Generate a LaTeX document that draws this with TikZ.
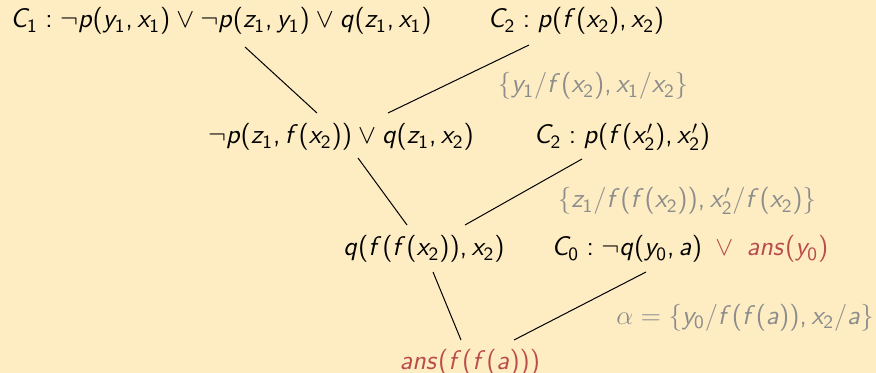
\RequirePackage{fix-cm}
\documentclass[tikz,border=0pt]{standalone}
\usepackage{xcolor}
\DeclareSymbolFont{sfletters}{OT1}{cmss}{m}{sl}
\DeclareSymbolFont{sfops}{OT1}{cmss}{m}{n}
\def\mkletters#1{\ifx#1\relax\else\DeclareMathSymbol{#1}{\mathalpha}{sfletters}{`#1}\expandafter\mkletters\fi}
\mkletters abcdefghijklmnopqrstuvwxyzABCDEFGHIJKLMNOPQRSTUVWXYZ\relax
\def\mkdigits#1{\ifx#1\relax\else\DeclareMathSymbol{#1}{\mathalpha}{sfops}{`#1}\expandafter\mkdigits\fi}
\mkdigits 0123456789\relax
\DeclareMathSymbol{(}{\mathopen}{sfops}{`(}
\DeclareMathSymbol{)}{\mathclose}{sfops}{`)}
\DeclareMathSymbol{,}{\mathpunct}{sfops}{`,}
\DeclareMathSymbol{/}{\mathord}{sfops}{`/}
\DeclareMathSymbol{:}{\mathrel}{sfops}{`:}
\definecolor{bg}{RGB}{254,237,195}
\definecolor{ansred}{RGB}{185,75,75}
\definecolor{subgray}{RGB}{140,140,140}
\tikzset{
  clause/.style={anchor=base,inner sep=0pt,font=\fontsize{13.45}{16}\selectfont},
  subst/.style={clause,text=subgray},
  edge/.style={draw=black,line width=0.5pt}
}
\begin{document}
\begin{tikzpicture}[x=0.5pt,y=-0.5pt]
\fill[bg] (0,0) rectangle (876,373);
\useasboundingbox (0,0) rectangle (876,373);
\node[clause] (c1) at (221,28) {$C_1 : \neg p(y_1,x_1)\vee\neg p(z_1,y_1)\vee q(z_1,x_1)$};
\node[clause] (c2) at (576,28) {$C_2 : p(f(x_2),x_2)$};
\node[subst] (s1) at (593,93) {$\{y_1/f(x_2),x_1/x_2\}$};
\node[clause] (r2) at (341,144) {$\neg p(z_1,f(x_2))\vee q(z_1,x_2)$};
\node[clause] (c2p) at (622,144) {$C_2 : p(f(x_2'),x_2')$};
\node[subst] (s2) at (687,208) {$\{z_1/f(f(x_2)),x_2'/f(x_2)\}$};
\node[clause] (r3) at (424,256) {$q(f(f(x_2)),x_2)$};
\node[clause] (c0) at (690,256) {$C_0 : \neg q(y_0,a)\enspace\textcolor{ansred}{\vee}\enspace\textcolor{ansred}{ans(y_0)}$};
\node[subst] (s3) at (745,324) {$\alpha=\{y_0/f(f(a)),x_2/a\}$};
\node[clause,text=ansred] (r4) at (470,369) {$ans(f(f(a)))$};
\draw[edge] ([shift={(24,19)}]c1.base) -- ([shift={(-24,-31)}]r2.base);
\draw[edge] ([shift={(-47,17)}]c2.base) -- ([shift={(47,-31)}]r2.base);
\draw[edge] ([shift={(17,14)}]r2.base) -- ([shift={(-17,-31)}]r3.base);
\draw[edge] ([shift={(-40,15)}]c2p.base) -- ([shift={(41,-31)}]r3.base);
\draw[edge] ([shift={(9,16)}]r3.base) -- ([shift={(-9,-29)}]r4.base);
\draw[edge] ([shift={(-44,16)}]c0.base) -- ([shift={(44,-29)}]r4.base);
\end{tikzpicture}
\end{document}
